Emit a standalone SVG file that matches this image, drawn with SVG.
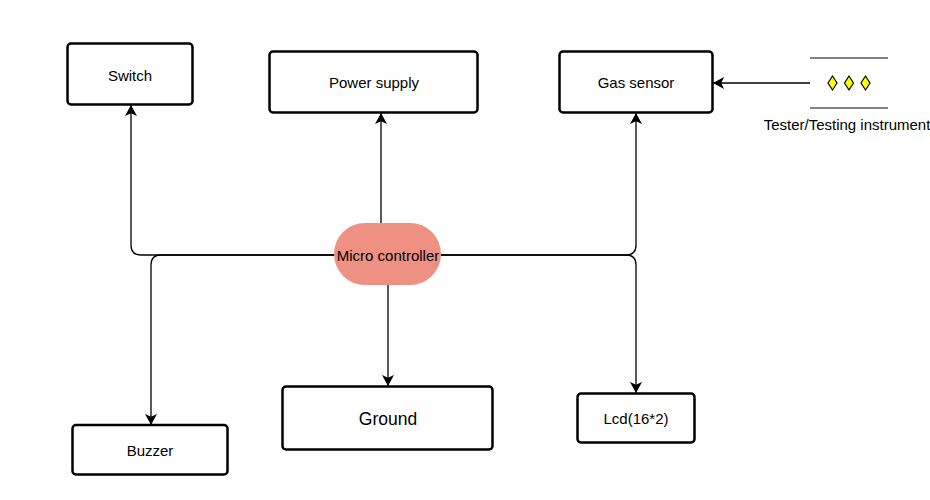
<svg xmlns="http://www.w3.org/2000/svg" width="930" height="500" viewBox="0 0 930 500">
<style>
text{font-family:"Liberation Sans",Arial,sans-serif;font-size:15px;fill:#000;text-anchor:middle}
.box{fill:#fff;stroke:#000;stroke-width:2.5}
.c{fill:none;stroke:#000;stroke-width:1.3;marker-end:url(#a)}
.d{fill:#ff0;stroke:#000;stroke-width:1.2}
.l{stroke:#5a5a5a;stroke-width:1.5}
</style>
<defs><marker id="a" markerUnits="userSpaceOnUse" markerWidth="13" markerHeight="13" refX="11" refY="6" orient="auto"><path d="M0 0L11 6L0 12L2.800 6Z" fill="#000"/></marker></defs>
<rect width="930" height="500" fill="#fff"/>
<g id="connectors">
<path class="c" d="M335 255H141Q131 255 131 245V105"/>
<path class="c" d="M335 255H161Q151 255 151 265V425"/>
<path class="c" d="M381 223V113"/>
<path class="c" d="M388 285V386"/>
<path class="c" d="M441 255H626Q636 255 636 245V113"/>
<path class="c" d="M441 255H626Q636 255 636 265V393"/>
<path class="c" d="M810 83H713"/>
</g>
<g id="switch"><rect class="box" x="67.500" y="43.500" width="125" height="61" rx="3.500"/><text x="130" y="81">Switch</text></g>
<g id="power"><rect class="box" x="269.500" y="51.500" width="208" height="61" rx="3.500"/><text x="374" y="88">Power supply</text></g>
<g id="gas"><rect class="box" x="559.500" y="51.500" width="153" height="61" rx="3.500"/><text x="636" y="88">Gas sensor</text></g>
<g id="tester">
<line class="l" x1="810" y1="58" x2="888" y2="58"/>
<line class="l" x1="810" y1="108" x2="888" y2="108"/>
<path class="d" d="M832.500 76L837 83L832.500 90L828 83Z"/>
<path class="d" d="M849 76L853.500 83L849 90L844.500 83Z"/>
<path class="d" d="M865.500 76L870 83L865.500 90L861 83Z"/>
<text x="847" y="130">Tester/Testing instrument</text>
</g>
<g id="mcu"><rect x="334" y="223" width="107" height="62" rx="31" fill="#ee9082"/><text x="388" y="261">Micro controller</text></g>
<g id="buzzer"><rect class="box" x="72.500" y="425" width="155" height="49.500" rx="3.500"/><text x="150" y="456">Buzzer</text></g>
<g id="ground"><rect class="box" x="282.500" y="386.500" width="210" height="63" rx="3.500"/><text x="388" y="425" style="font-size:17.500px">Ground</text></g>
<g id="lcd"><rect class="box" x="577.500" y="393.500" width="117" height="49" rx="3.500"/><text x="636" y="424">Lcd(16*2)</text></g>
</svg>
